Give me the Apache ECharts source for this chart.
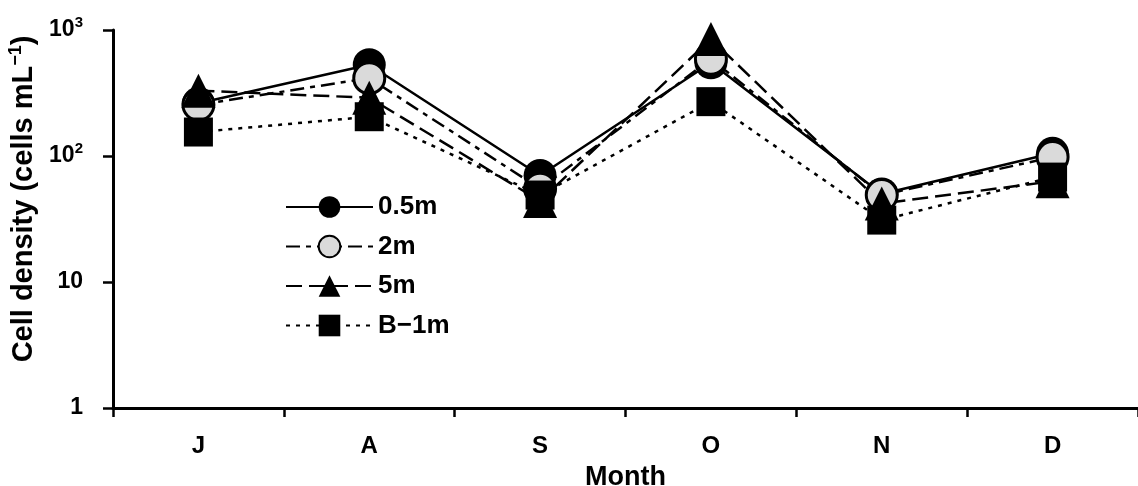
<!DOCTYPE html>
<html>
<head>
<meta charset="utf-8">
<script src="https://cdn.jsdelivr.net/npm/echarts@6/dist/echarts.min.js"></script>
<style>
html,body{margin:0;padding:0;background:#fff;}
#chart{width:1138px;height:486px;}
</style>
</head>
<body>
<div id="chart"></div>
<script>
const months = ['J', 'A', 'S', 'O', 'N', 'D'];
const depth05 = [262, 530, 70, 550, 50, 105];
const depth2 = [255, 415, 55, 590, 49, 98];
const depth5 = [330, 290, 44, 850, 42, 63];
const depthB1 = [155, 205, 49, 270, 31, 68];
const seriesNames = ['0.5m', '2m', '5m', 'B\u22121m'];
const yTicks = [1, 10, 100, 1000];

const FONT = '"Liberation Sans", Arial, sans-serif';
const chart = echarts.init(document.getElementById('chart'), null, {renderer: 'canvas'});

function mk(name, data, symbol, size, fill, dash, border) {
  return {
    name: name, type: 'line', data: data,
    symbol: symbol, symbolSize: size,
    itemStyle: {color: fill, borderColor: '#000', borderWidth: border},
    lineStyle: {color: '#000', width: 2.5, type: dash},
    emphasis: {disabled: true},
    z: 2
  };
}

chart.setOption({
  animation: false,
  backgroundColor: '#fff',
  grid: {left: 113, right: 0, top: 30, bottom: 78, containLabel: false, outerBoundsMode: 'none'},
  legend: {
    orient: 'vertical', left: 280, top: 189,
    itemWidth: 87, itemHeight: 27, itemGap: 13.5,
    textStyle: {fontFamily: FONT, fontWeight: 'bold', fontSize: 26, color: '#000'},
    data: seriesNames
  },
  xAxis: {
    type: 'category', data: months, boundaryGap: true,
    name: 'Month', nameLocation: 'middle', nameGap: 56,
    nameTextStyle: {fontFamily: FONT, fontWeight: 'bold', fontSize: 27, color: '#000'},
    axisLine: {lineStyle: {color: '#000', width: 3}},
    axisTick: {show: true, alignWithLabel: false, length: 9, lineStyle: {color: '#000', width: 2.5}},
    axisLabel: {fontFamily: FONT, fontWeight: 'bold', fontSize: 24, color: '#000', margin: 26},
    splitLine: {show: false}
  },
  yAxis: {
    type: 'log', logBase: 10, min: yTicks[0], max: yTicks[yTicks.length - 1],
    name: '{n|Cell density (cells mL}{s|\u22121}{n|)}',
    nameLocation: 'middle', nameGap: 72, nameRotate: 90,
    nameTextStyle: {
      padding: [0, 0, 0, 40],
      rich: {
        n: {fontFamily: FONT, fontWeight: 'bold', fontSize: 29, color: '#000'},
        s: {fontFamily: FONT, fontWeight: 'bold', fontSize: 18, color: '#000', verticalAlign: 'top', padding: [0, 0, 16, 0]}
      }
    },
    axisLine: {show: true, lineStyle: {color: '#000', width: 3}},
    axisTick: {show: true, length: 10, lineStyle: {color: '#000', width: 2.5}},
    minorTick: {show: false},
    splitLine: {show: false},
    axisLabel: {
      margin: 30,
      formatter: function (v) {
        const e = Math.round(Math.log10(v));
        if (e <= 1) return '{b|' + v + '}';
        return '{b|10}{p|' + e + '}';
      },
      rich: {
        b: {fontFamily: FONT, fontWeight: 'bold', fontSize: 23, color: '#000'},
        p: {fontFamily: FONT, fontWeight: 'bold', fontSize: 15, color: '#000', verticalAlign: 'top', padding: [0, 0, 14, 0]}
      }
    }
  },
  series: [
    mk(seriesNames[0], depth05, 'circle', 33, '#000', 'solid', 0),
    mk(seriesNames[1], depth2, 'circle', 31, '#dadada', [14, 6, 5, 6], 3),
    mk(seriesNames[2], depth5, 'triangle', 34, '#000', [16, 7], 0),
    mk(seriesNames[3], depthB1, 'rect', 29, '#000', [4, 6], 0)
  ]
});
</script>
</body>
</html>
